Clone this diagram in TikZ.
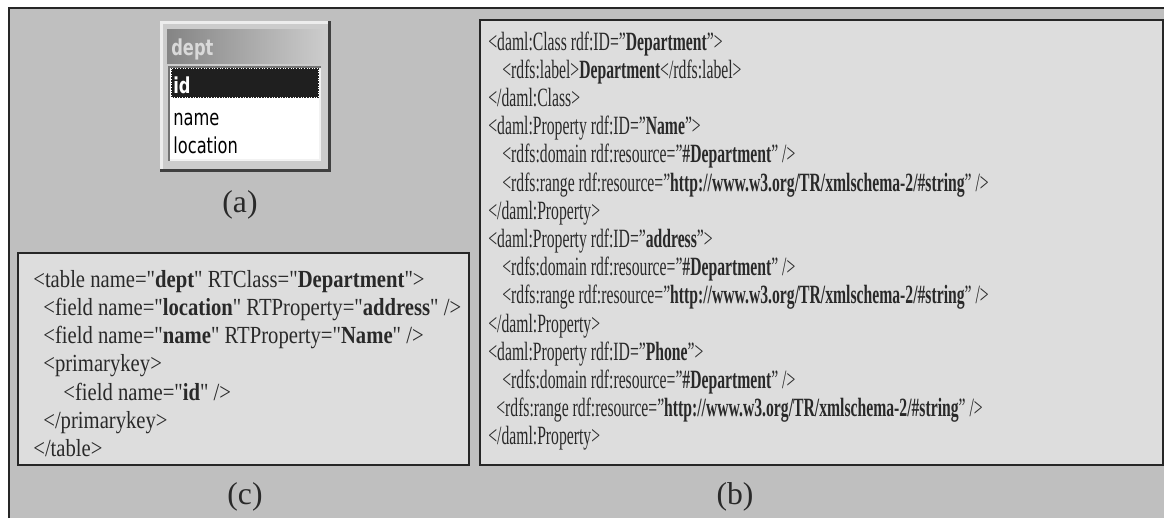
\documentclass[tikz,border=0pt]{standalone}
\usepackage{fontspec}
\setmainfont[FakeStretch=0.595]{Liberation Serif}
\newfontfamily\mapfont[FakeStretch=0.84]{Liberation Serif}
\newfontfamily\labelfont{Liberation Serif}
\newfontfamily\uifont[FakeStretch=0.74]{DejaVu Sans}
\usetikzlibrary{positioning}

\definecolor{pagegray}{gray}{0.75}
\definecolor{boxgray}{gray}{0.865}
\definecolor{uiface}{gray}{0.80}
\definecolor{uilight}{gray}{0.93}
\definecolor{uidark}{gray}{0.25}
\definecolor{inktext}{gray}{0.16}

\tikzset{
  code/.style={anchor=base west, inner sep=0pt, text=inktext, font=\fontsize{15}{17}\selectfont},
  mapcode/.style={code, font=\mapfont\fontsize{14}{16}\selectfont},
  caption/.style={inner sep=0pt, text=inktext, font=\labelfont\fontsize{18}{20}\selectfont},
  uitext/.style={anchor=base west, inner sep=0pt, font=\uifont\fontsize{12.5}{14}\selectfont},
  panel/.style={fill=boxgray, draw=black!85, line width=0.8pt}
}

\begin{document}
\begin{tikzpicture}[x=0.02cm, y=-0.02cm]
\useasboundingbox (0,0) rectangle (1164,518);

% page

\fill[pagegray] (9,8) rectangle (1164,518);
\draw[black!85, line width=1.1pt] (9,518) -- (9,8) -- (1164,8);

% panels

\draw[panel] (480,20) rectangle (1163,465);
\draw[panel] (18,253) rectangle (469,465);

% table window (a)

\fill[uidark] (160,21) rectangle (331,172);
\fill[uilight] (160,21) rectangle (328,169);
\fill[uiface] (163,24) rectangle (328,169);
\shade[left color=black!48, right color=black!20] (167,29) rectangle (325,63);
\node (dept) [uitext, text=black!15, font=\uifont\bfseries\fontsize{12.5}{14}\selectfont] at (171,55) {dept};

\fill[black!55] (168,66) rectangle (321,161);
\fill[white!95!black] (170,68) rectangle (321,161);
\fill[white] (170,68) rectangle (319,159);
\fill[black!88] (171,68) rectangle (319,98);
\draw[white, densely dotted, line width=0.5pt] (171.5,68.5) rectangle (318.5,97.5);

\node (id) [uitext, text=white, font=\uifont\bfseries\fontsize{12.5}{14}\selectfont] at (173,93) {id};
\node (name) [uitext, text=black] at (173,125) {name};
\node (location) [uitext, text=black] at (173,153) {location};

\node (capa) [caption] at (240,205) {(a)};

% ontology (b)

\node (b1) [code] at (488,50) {<daml:Class rdf:ID="\textbf{Department}">};
\node (b2) [code] at (502,78.2) {<rdfs:label>\textbf{Department}</rdfs:label>};
\node (b3) [code] at (488,106.4) {</daml:Class>};
\node (b4) [code] at (488,134.6) {<daml:Property rdf:ID="\textbf{Name}">};
\node (b5) [code] at (502,162.8) {<rdfs:domain rdf:resource="\textbf{\#Department}" />};
\node (b6) [code] at (502,191.0) {<rdfs:range rdf:resource="\textbf{http://www.w3.org/TR/xmlschema-2/\#string}" />};
\node (b7) [code] at (488,219.2) {</daml:Property>};
\node (b8) [code] at (488,247.4) {<daml:Property rdf:ID="\textbf{address}">};
\node (b9) [code] at (502,275.6) {<rdfs:domain rdf:resource="\textbf{\#Department}" />};
\node (b10) [code] at (502,303.8) {<rdfs:range rdf:resource="\textbf{http://www.w3.org/TR/xmlschema-2/\#string}" />};
\node (b11) [code] at (488,332.0) {</daml:Property>};
\node (b12) [code] at (488,360.2) {<daml:Property rdf:ID="\textbf{Phone}">};
\node (b13) [code] at (502,388.4) {<rdfs:domain rdf:resource="\textbf{\#Department}" />};
\node (b14) [code] at (496,416.6) {<rdfs:range rdf:resource="\textbf{http://www.w3.org/TR/xmlschema-2/\#string}" />};
\node (b15) [code] at (488,444.8) {</daml:Property>};

\node (capb) [caption] at (735,497) {(b)};

% mapping (c)

\node (c1) [mapcode] at (33,287) {<table name="\textbf{dept}" RTClass="\textbf{Department}">};
\node (c2) [mapcode] at (43,315.3) {<field name="\textbf{location}" RTProperty="\textbf{address}" />};
\node (c3) [mapcode] at (43,343.6) {<field name="\textbf{name}" RTProperty="\textbf{Name}" />};
\node (c4) [mapcode] at (43,371.9) {<primarykey>};
\node (c5) [mapcode] at (63,400.2) {<field name="\textbf{id}" />};
\node (c6) [mapcode] at (43,428.5) {</primarykey>};
\node (c7) [mapcode] at (33,456.8) {</table>};

\node (capc) [caption] at (245,497) {(c)};
\end{tikzpicture}
\end{document}
